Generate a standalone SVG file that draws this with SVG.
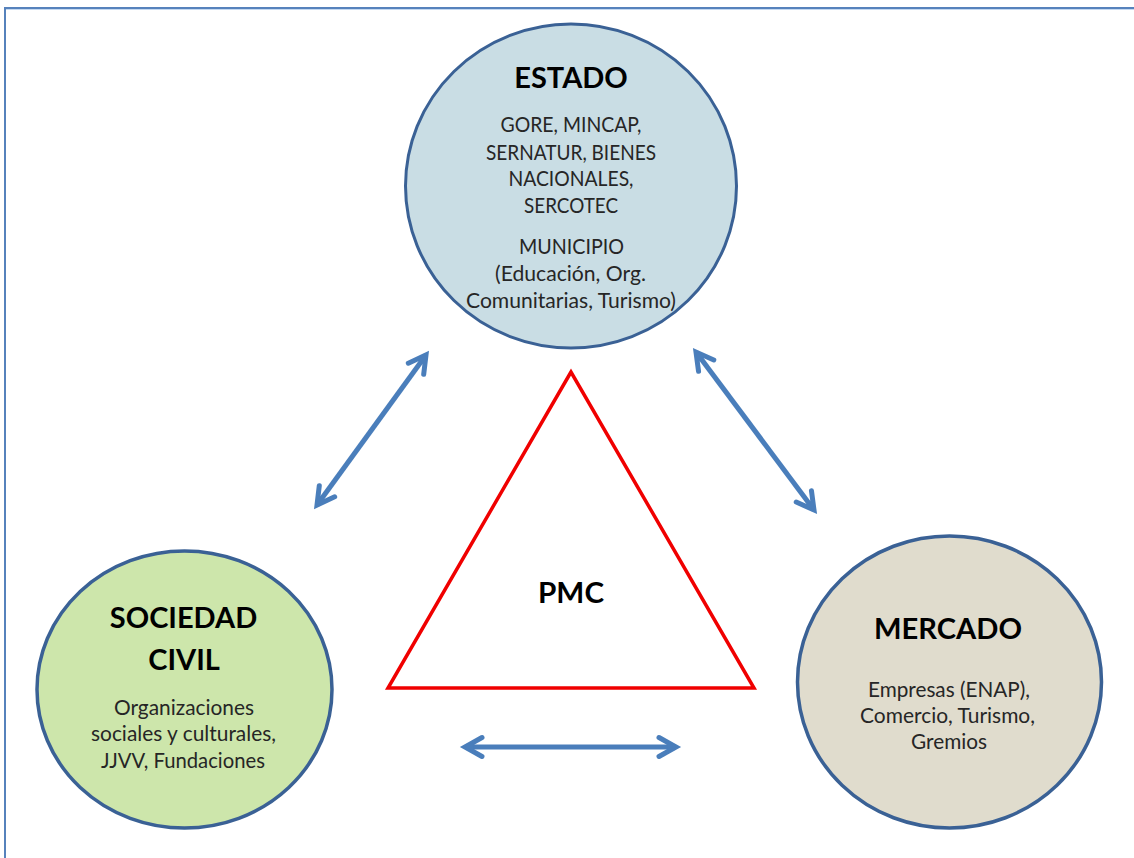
<svg xmlns="http://www.w3.org/2000/svg" width="1134" height="858" viewBox="0 0 1134 858">
<style>
text{font-family:Lato,"Open Sans","Liberation Sans",sans-serif;text-anchor:middle;fill:#262626}
.t{font-size:29px;font-weight:700;fill:#000}
.b{font-size:20.5px}
.n{stroke:#3a6195;stroke-width:3.5}
.c{fill:none;stroke:#4a7ebb;stroke-width:5;marker-start:url(#h);marker-end:url(#h)}
</style>
<defs>
<marker id="h" markerUnits="userSpaceOnUse" markerWidth="36" markerHeight="36" refX="24" refY="18" orient="auto-start-reverse">
<path d="M7 8.500 L24 18 L7 27.500" fill="none" stroke="#4a7ebb" stroke-width="5" stroke-linecap="round" stroke-linejoin="miter"/>
<path d="M13 12 L24 18 L13 24 L16 18 Z" fill="#4a7ebb"/>
</marker>
</defs>
<rect width="1134" height="858" fill="#fff"/>
<g id="frame">
<path d="M5 858V8H1134" fill="none" stroke="#5682bc" stroke-width="2"/>
<path d="M6 9.500H1134" fill="none" stroke="#c5d9f1" stroke-width="1"/>
</g>
<g id="connectors">
<line class="c" x1="426" y1="355" x2="317" y2="505"/>
<line class="c" x1="696" y1="352" x2="814" y2="510"/>
<line class="c" x1="465" y1="747" x2="676" y2="747"/>
</g>
<g id="estado">
<ellipse class="n" cx="571" cy="186" rx="165.500" ry="162" fill="#c9dde4" style="stroke-width:3"/>
<text class="t" x="571" y="88">ESTADO</text>
<text class="b" x="571" y="132" textLength="141" lengthAdjust="spacingAndGlyphs">GORE, MINCAP,</text>
<text class="b" x="571" y="160" textLength="170" lengthAdjust="spacingAndGlyphs">SERNATUR, BIENES</text>
<text class="b" x="571" y="186" textLength="125" lengthAdjust="spacingAndGlyphs">NACIONALES,</text>
<text class="b" x="571" y="213" textLength="94" lengthAdjust="spacingAndGlyphs">SERCOTEC</text>
<text class="b" x="571.500" y="254" textLength="105" lengthAdjust="spacingAndGlyphs">MUNICIPIO</text>
<text class="b" x="570.500" y="281" textLength="151" lengthAdjust="spacingAndGlyphs">(Educación, Org.</text>
<text class="b" x="571" y="308" textLength="210" lengthAdjust="spacingAndGlyphs">Comunitarias, Turismo)</text>
</g>
<g id="sociedad-civil">
<ellipse class="n" cx="184.500" cy="689.500" rx="147.500" ry="138.500" fill="#cde6ab"/>
<text class="t" x="183.500" y="628">SOCIEDAD</text>
<text class="t" x="184" y="670">CIVIL</text>
<text class="b" x="184" y="715" textLength="140" lengthAdjust="spacingAndGlyphs">Organizaciones</text>
<text class="b" x="183.500" y="741" textLength="185" lengthAdjust="spacingAndGlyphs">sociales y culturales,</text>
<text class="b" x="183" y="768" textLength="164" lengthAdjust="spacingAndGlyphs">JJVV, Fundaciones</text>
</g>
<g id="mercado">
<ellipse class="n" cx="949.500" cy="682" rx="152" ry="146" fill="#e0dccd"/>
<text class="t" x="948" y="639" textLength="148" lengthAdjust="spacingAndGlyphs">MERCADO</text>
<text class="b" x="949" y="697" textLength="162" lengthAdjust="spacingAndGlyphs">Empresas (ENAP),</text>
<text class="b" x="947.500" y="723" textLength="175" lengthAdjust="spacingAndGlyphs">Comercio, Turismo,</text>
<text class="b" x="949" y="749" textLength="76" lengthAdjust="spacingAndGlyphs">Gremios</text>
</g>
<g id="pmc">
<path d="M571 372L388 688H754Z" fill="#fff" stroke="#f00000" stroke-width="3.500"/>
<text class="t" x="571" y="603" textLength="66" lengthAdjust="spacingAndGlyphs">PMC</text>
</g>
</svg>
